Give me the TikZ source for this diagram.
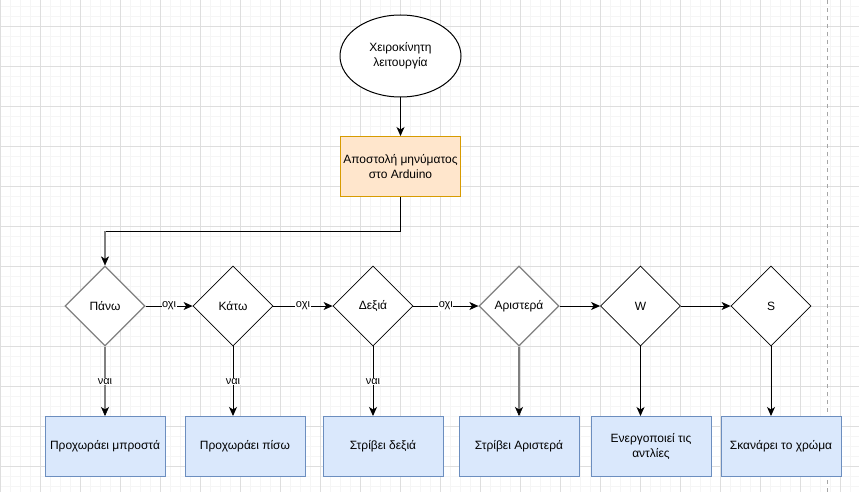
\documentclass[tikz,border=0pt]{standalone}
\usepackage{fontspec}
\setmainfont{Liberation Sans}
\usetikzlibrary{shapes.geometric,arrows.meta}
\definecolor{orfill}{HTML}{FFE6CC}
\definecolor{ordraw}{HTML}{D79B00}
\definecolor{blfill}{HTML}{DAE8FC}
\definecolor{bldraw}{HTML}{6C8EBF}
\definecolor{gridminor}{HTML}{F5F5F5}
\definecolor{gridmajor}{HTML}{DEDEDE}
\definecolor{grayline}{HTML}{808080}
\begin{document}
\begin{tikzpicture}[x=1pt,y=-1pt,
  every node/.style={font=\fontsize{12}{14}\selectfont, text=black},
  decision/.style={diamond, draw=black, line width=0.8pt, minimum width=80pt, minimum height=80pt, aspect=1, inner sep=0pt, fill=white},
  grdecision/.style={decision, draw=grayline, line width=1.2pt},
  actbox/.style={rectangle, draw=bldraw, fill=blfill, line width=1pt, minimum width=120pt, minimum height=60pt, align=center, inner sep=2pt},
  conn/.style={draw=black, line width=1pt, -{Stealth[length=9pt,width=8pt,inset=2.5pt]}},
  grconn/.style={draw=grayline, line width=1.6pt, -{Stealth[length=9pt,width=8pt,inset=2.5pt,color=black,line width=0.5pt]}},
  lbl/.style={fill=white, inner sep=0.5pt, font=\fontsize{11}{13}\selectfont}
]
\useasboundingbox (0,0) rectangle (859,492);
\fill[white] (0,0) rectangle (859,492);
% grid
\foreach \x in {0,10,...,850} \draw[gridminor, line width=0.8pt] (\x,0) -- (\x,492);
\foreach \y in {6,16,...,486} \draw[gridminor, line width=0.8pt] (0,\y) -- (859,\y);
\foreach \x in {0,40,...,840} \draw[gridmajor, line width=0.8pt] (\x,0) -- (\x,492);
\foreach \y in {26,66,...,466} \draw[gridmajor, line width=0.8pt] (0,\y) -- (859,\y);
\draw[grayline!70, line width=0.8pt, dash pattern=on 4pt off 4pt] (827,0) -- (827,492);

% nodes
\node[ellipse, draw=black, line width=1pt, fill=white, minimum width=121pt, minimum height=82pt, align=center, inner sep=0pt] (start) at (400.5,56) {Χειροκίνητη\\[1pt]λειτουργία};
\node[rectangle, draw=ordraw, fill=orfill, line width=1pt, minimum width=120pt, minimum height=60pt, align=center] (send) at (400.5,166.5) {Αποστολή μηνύματος\\[1pt]στο Arduino};

\node[grdecision] (d1) at (105,306) {Πάνω};
\node[decision] (d2) at (233,306) {Κάτω};
\node[decision] (d3) at (373,306) {Δεξιά};
\node[grdecision] (d4) at (519,306) {Αριστερά};
\node[decision] (d5) at (640.5,306) {W};
\node[decision] (d6) at (771,306) {S};

\node[actbox] (b1) at (105,446.5) {Προχωράει μπροστά};
\node[actbox] (b2) at (245,446.5) {Προχωράει πίσω};
\node[actbox] (b3) at (383,446.5) {Στρίβει δεξιά};
\node[actbox] (b4) at (519,446.5) {Στρίβει Αριστερά};
\node[actbox] (b5) at (651,446.5) {Ενεργοποιεί τις\\[1pt]αντλίες};
\node[actbox] (b6) at (781,446.5) {Σκανάρει το χρώμα};

\coordinate (c1) at (400.5,231);
\coordinate (c2) at (105,231);

% connectors
\draw[conn] (start) -- (send);
\draw[line width=1pt] (send.south) -- (c1) -- (c2);
\draw[grconn] (c2) -- (d1.north);

\draw[conn] (d1.east) -- node[lbl] {οχι} (d2.west);
\draw[conn] (d2.east) -- node[lbl] {οχι} (d3.west);
\draw[conn] (d3.east) -- node[lbl] {οχι} (d4.west);
\draw[conn] (d4.east) -- (d5.west);
\draw[conn] (d5.east) -- (d6.west);

\draw[grconn] (d1.south) -- node[lbl, pos=0.5] {ναι} (d1.south |- b1.north);
\draw[conn] (d2.south) -- node[lbl, pos=0.5] {ναι} (d2.south |- b2.north);
\draw[conn] (d3.south) -- node[lbl, pos=0.5] {ναι} (d3.south |- b3.north);
\draw[grconn] (d4.south) -- (d4.south |- b4.north);
\draw[conn] (d5.south) -- (d5.south |- b5.north);
\draw[conn] (d6.south) -- (d6.south |- b6.north);
\end{tikzpicture}
\end{document}
